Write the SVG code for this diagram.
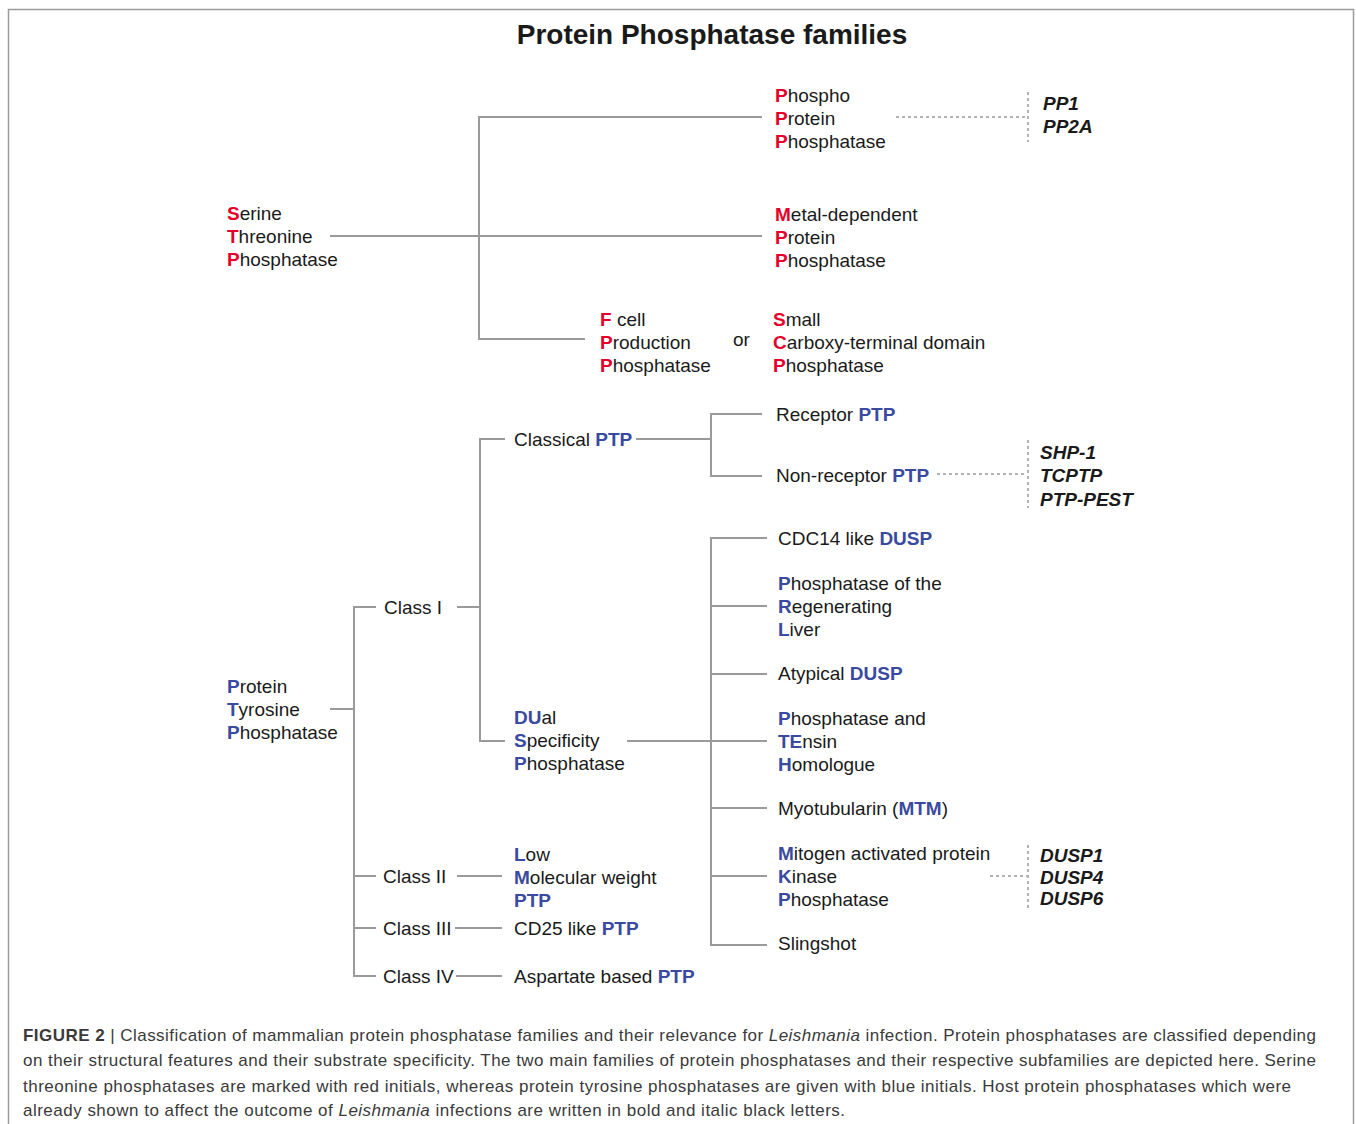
<svg xmlns="http://www.w3.org/2000/svg" width="1356" height="1124" viewBox="0 0 1356 1124">
<style>
text{font-family:"Liberation Sans",Arial,Helvetica,sans-serif;font-size:19px;fill:#1a1a1a}
.r{fill:#e4002b;font-weight:bold}
.b{fill:#3a4a9f;font-weight:bold}
.bb{fill:#3a4a9f;font-weight:bold}
.k{font-weight:bold;font-style:italic;fill:#1a1a1a}
.ln{stroke:#9a9a9a;stroke-width:2;fill:none}
.dt{stroke:#9a9a9a;stroke-width:1.5;fill:none;stroke-dasharray:3 3}
.cap{font-size:17px;fill:#3a3a3a}
.title{font-size:28px;font-weight:bold;fill:#1a1a1a}
</style>
<rect x="0" y="0" width="1356" height="1124" fill="#ffffff"/>
<path d="M8.5 1124 V9.5 H1353.5 V1124" fill="none" stroke="#9a9a9a" stroke-width="1.5"/>
<text class="title" x="712" y="44" text-anchor="middle">Protein Phosphatase families</text>

<g id="connectors">
<!-- STP tree -->
<path class="ln" d="M330 236 H762"/>
<path class="ln" d="M762 117 H479 V339 H585"/>
<path class="dt" d="M896 117 H1027"/>
<path class="dt" d="M1028 92 V142"/>
<!-- PTP tree -->
<path class="ln" d="M330 709 H354"/>
<path class="ln" d="M376 607 H354 V976 H376"/>
<path class="ln" d="M354 876 H376"/>
<path class="ln" d="M354 928 H376"/>
<path class="ln" d="M457 607 H480"/>
<path class="ln" d="M505 439 H480 V741 H505"/>
<path class="ln" d="M636 439 H711"/>
<path class="ln" d="M762 414 H711 V476 H762"/>
<path class="dt" d="M937 474 H1027"/>
<path class="dt" d="M1028 440 V508"/>
<path class="ln" d="M627 741 H767"/>
<path class="ln" d="M767 538 H711 V945 H767"/>
<path class="ln" d="M711 606 H767"/>
<path class="ln" d="M711 674 H767"/>
<path class="ln" d="M711 808 H767"/>
<path class="ln" d="M711 876 H767"/>
<path class="dt" d="M990 876 H1027"/>
<path class="dt" d="M1028 845 V908"/>
<path class="ln" d="M457 876 H502"/>
<path class="ln" d="M455 928 H502"/>
<path class="ln" d="M456 976 H502"/>
</g>

<g id="stp">
<text x="227" y="220"><tspan class="r">S</tspan>erine</text>
<text x="227" y="243"><tspan class="r">T</tspan>hreonine</text>
<text x="227" y="266"><tspan class="r">P</tspan>hosphatase</text>
</g>
<g id="ppp">
<text x="775" y="102"><tspan class="r">P</tspan>hospho</text>
<text x="775" y="125"><tspan class="r">P</tspan>rotein</text>
<text x="775" y="148"><tspan class="r">P</tspan>hosphatase</text>
</g>
<g id="ppp-host">
<text class="k" x="1043" y="110">PP1</text>
<text class="k" x="1043" y="133">PP2A</text>
</g>
<g id="mpp">
<text x="775" y="221"><tspan class="r">M</tspan>etal-dependent</text>
<text x="775" y="244"><tspan class="r">P</tspan>rotein</text>
<text x="775" y="267"><tspan class="r">P</tspan>hosphatase</text>
</g>
<g id="fcp">
<text x="600" y="326"><tspan class="r">F</tspan> cell</text>
<text x="600" y="349"><tspan class="r">P</tspan>roduction</text>
<text x="600" y="372"><tspan class="r">P</tspan>hosphatase</text>
</g>
<g id="or"><text x="733" y="346">or</text></g>
<g id="scp">
<text x="773" y="326"><tspan class="r">S</tspan>mall</text>
<text x="773" y="349"><tspan class="r">C</tspan>arboxy-terminal domain</text>
<text x="773" y="372"><tspan class="r">P</tspan>hosphatase</text>
</g>

<g id="ptp">
<text x="227" y="693"><tspan class="b">P</tspan>rotein</text>
<text x="227" y="716"><tspan class="b">T</tspan>yrosine</text>
<text x="227" y="739"><tspan class="b">P</tspan>hosphatase</text>
</g>
<g id="class1"><text x="384" y="614">Class I</text></g>
<g id="class2"><text x="383" y="883">Class II</text></g>
<g id="class3"><text x="383" y="935">Class III</text></g>
<g id="class4"><text x="383" y="983">Class IV</text></g>
<g id="classical"><text x="514" y="446">Classical <tspan class="b">PTP</tspan></text></g>
<g id="receptor"><text x="776" y="421">Receptor <tspan class="b">PTP</tspan></text></g>
<g id="nonreceptor"><text x="776" y="482">Non-receptor <tspan class="b">PTP</tspan></text></g>
<g id="nr-host">
<text class="k" x="1040" y="459">SHP-1</text>
<text class="k" x="1040" y="482">TCPTP</text>
<text class="k" x="1040" y="506">PTP-PEST</text>
</g>
<g id="dusp">
<text x="514" y="724"><tspan class="b">DU</tspan>al</text>
<text x="514" y="747"><tspan class="b">S</tspan>pecificity</text>
<text x="514" y="770"><tspan class="b">P</tspan>hosphatase</text>
</g>
<g id="cdc14"><text x="778" y="545">CDC14 like <tspan class="b">DUSP</tspan></text></g>
<g id="prl">
<text x="778" y="590"><tspan class="b">P</tspan>hosphatase of the</text>
<text x="778" y="613"><tspan class="b">R</tspan>egenerating</text>
<text x="778" y="636"><tspan class="b">L</tspan>iver</text>
</g>
<g id="atypical"><text x="778" y="680">Atypical <tspan class="b">DUSP</tspan></text></g>
<g id="pten">
<text x="778" y="725"><tspan class="b">P</tspan>hosphatase and</text>
<text x="778" y="748"><tspan class="b">TE</tspan>nsin</text>
<text x="778" y="771"><tspan class="b">H</tspan>omologue</text>
</g>
<g id="mtm"><text x="778" y="815">Myotubularin (<tspan class="b">MTM</tspan>)</text></g>
<g id="mkp">
<text x="778" y="860"><tspan class="b">M</tspan>itogen activated protein</text>
<text x="778" y="883"><tspan class="b">K</tspan>inase</text>
<text x="778" y="906"><tspan class="b">P</tspan>hosphatase</text>
</g>
<g id="mkp-host">
<text class="k" x="1040" y="862">DUSP1</text>
<text class="k" x="1040" y="884">DUSP4</text>
<text class="k" x="1040" y="905">DUSP6</text>
</g>
<g id="slingshot"><text x="778" y="950">Slingshot</text></g>
<g id="lmw">
<text x="514" y="861"><tspan class="b">L</tspan>ow</text>
<text x="514" y="884"><tspan class="b">M</tspan>olecular weight</text>
<text x="514" y="907"><tspan class="b">PTP</tspan></text>
</g>
<g id="cd25"><text x="514" y="935">CD25 like <tspan class="b">PTP</tspan></text></g>
<g id="asp"><text x="514" y="983">Aspartate based <tspan class="b">PTP</tspan></text></g>

<g id="caption">
<text class="cap" x="23" y="1041" textLength="1293" lengthAdjust="spacing"><tspan font-weight="bold">FIGURE 2</tspan> | Classification of mammalian protein phosphatase families and their relevance for <tspan font-style="italic">Leishmania</tspan> infection. Protein phosphatases are classified depending</text>
<text class="cap" x="23" y="1066" textLength="1293" lengthAdjust="spacing">on their structural features and their substrate specificity. The two main families of protein phosphatases and their respective subfamilies are depicted here. Serine</text>
<text class="cap" x="23" y="1092" textLength="1268" lengthAdjust="spacing">threonine phosphatases are marked with red initials, whereas protein tyrosine phosphatases are given with blue initials. Host protein phosphatases which were</text>
<text class="cap" x="23" y="1116" textLength="822" lengthAdjust="spacing">already shown to affect the outcome of <tspan font-style="italic">Leishmania</tspan> infections are written in bold and italic black letters.</text>
</g>
</svg>
